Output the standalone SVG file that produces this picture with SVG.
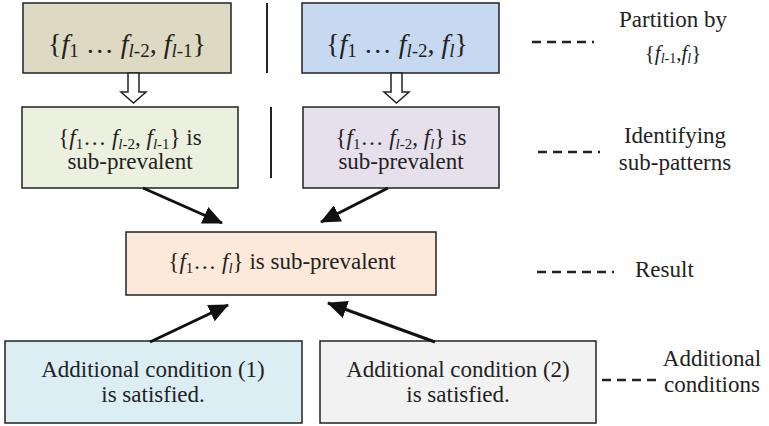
<svg xmlns="http://www.w3.org/2000/svg" width="769" height="426" viewBox="0 0 769 426">
<style>
.i{font-style:italic}
.s{font-size:15px}
.b{font-size:19px}
.box{stroke:#222;stroke-width:1.5}
.sep{stroke:#222;stroke-width:2}
.dash{stroke:#222;stroke-width:2.5;stroke-dasharray:9,6}
.arr{stroke:#111;stroke-width:3;fill:none}
.hollow{fill:#fff;stroke:#222;stroke-width:1.5}
</style>
<defs>
<marker id="ah" viewBox="0 0 20 18" refX="19" refY="9" markerWidth="20" markerHeight="18" markerUnits="userSpaceOnUse" orient="auto">
<path d="M0,0 L20,9 L0,18 Z" fill="#111"/>
</marker>
</defs>
<rect width="769" height="426" fill="#fff"/>
<g id="n1">
<rect class="box" x="23" y="3" width="208" height="70" fill="#ddd9c3"/>
<text font-family="Liberation Serif" fill="#222" x="127" y="53" text-anchor="middle" font-size="28">{<tspan class="i">f</tspan><tspan class="b" dy="4">1</tspan><tspan dy="-4"> … </tspan><tspan class="i">f</tspan><tspan class="b" dy="4"><tspan class="i">l</tspan>-2</tspan><tspan dy="-4">, </tspan><tspan class="i">f</tspan><tspan class="b" dy="4"><tspan class="i">l</tspan>-1</tspan><tspan dy="-4">}</tspan></text>
</g>

<g id="n2">
<rect class="box" x="302" y="3" width="197" height="70" fill="#c6d9f1"/>
<text font-family="Liberation Serif" fill="#222" x="397" y="53" text-anchor="middle" font-size="28">{<tspan class="i">f</tspan><tspan class="b" dy="4">1</tspan><tspan dy="-4"> … </tspan><tspan class="i">f</tspan><tspan class="b" dy="4"><tspan class="i">l</tspan>-2</tspan><tspan dy="-4">, </tspan><tspan class="i">f</tspan><tspan class="b i" dy="4">l</tspan><tspan dy="-4">}</tspan></text>
</g>

<g id="n3">
<rect class="box" x="22" y="107" width="216" height="81" fill="#ebf1de"/>
<text font-family="Liberation Serif" fill="#222" font-size="23" x="130" y="145" text-anchor="middle">{<tspan class="i">f</tspan><tspan class="s" dy="4">1</tspan><tspan dy="-4">… </tspan><tspan class="i">f</tspan><tspan class="s" dy="4"><tspan class="i">l</tspan>-2</tspan><tspan dy="-4">, </tspan><tspan class="i">f</tspan><tspan class="s" dy="4"><tspan class="i">l</tspan>-1</tspan><tspan dy="-4">} is</tspan></text>
<text font-family="Liberation Serif" fill="#222" font-size="23" x="130" y="169" text-anchor="middle">sub-prevalent</text>
</g>

<g id="n4">
<rect class="box" x="303" y="107" width="196" height="81" fill="#e5e0ec"/>
<text font-family="Liberation Serif" fill="#222" font-size="23" x="401" y="145" text-anchor="middle">{<tspan class="i">f</tspan><tspan class="s" dy="4">1</tspan><tspan dy="-4">… </tspan><tspan class="i">f</tspan><tspan class="s" dy="4"><tspan class="i">l</tspan>-2</tspan><tspan dy="-4">, </tspan><tspan class="i">f</tspan><tspan class="s i" dy="4">l</tspan><tspan dy="-4">} is</tspan></text>
<text font-family="Liberation Serif" fill="#222" font-size="23" x="401" y="169" text-anchor="middle">sub-prevalent</text>
</g>

<g id="n5">
<rect class="box" x="126" y="232" width="310" height="63" fill="#fde9d9"/>
<text font-family="Liberation Serif" fill="#222" font-size="23" x="282" y="269" text-anchor="middle">{<tspan class="i">f</tspan><tspan class="s" dy="4">1</tspan><tspan dy="-4">… </tspan><tspan class="i">f</tspan><tspan class="s i" dy="4">l</tspan><tspan dy="-4">} is sub-prevalent</tspan></text>
</g>

<g id="n6">
<rect class="box" x="5" y="341" width="297" height="82" fill="#dbeef4"/>
<text font-family="Liberation Serif" fill="#222" font-size="23" x="153" y="377" text-anchor="middle">Additional condition (1)</text>
<text font-family="Liberation Serif" fill="#222" font-size="23" x="153" y="402" text-anchor="middle">is satisfied.</text>
</g>

<g id="n7">
<rect class="box" x="320" y="341" width="276" height="82" fill="#f2f2f2"/>
<text font-family="Liberation Serif" fill="#222" font-size="23" x="458" y="377" text-anchor="middle">Additional condition (2)</text>
<text font-family="Liberation Serif" fill="#222" font-size="23" x="458" y="402" text-anchor="middle">is satisfied.</text>
</g>

<g id="legend">
<line class="dash" x1="532" y1="42" x2="594" y2="42"/>
<text font-family="Liberation Serif" fill="#222" font-size="23" x="673" y="27" text-anchor="middle">Partition by</text>
<text font-family="Liberation Serif" fill="#222" x="673" y="60" text-anchor="middle" font-size="21">{<tspan class="i">f</tspan><tspan font-size="14" dy="3"><tspan class="i">l</tspan>-1</tspan><tspan dy="-3">,</tspan><tspan class="i">f</tspan><tspan class="i" font-size="14" dy="3">l</tspan><tspan dy="-3">}</tspan></text>
<line class="dash" x1="538" y1="152" x2="600" y2="152"/>
<text font-family="Liberation Serif" fill="#222" font-size="23" x="675" y="143" text-anchor="middle">Identifying</text>
<text font-family="Liberation Serif" fill="#222" font-size="23" x="675" y="170" text-anchor="middle">sub-patterns</text>
<line class="dash" x1="537" y1="272" x2="614" y2="272"/>
<text font-family="Liberation Serif" fill="#222" font-size="23" x="635" y="277">Result</text>
<line class="dash" x1="602" y1="380" x2="657" y2="380"/>
<text font-family="Liberation Serif" fill="#222" font-size="23" x="712" y="366" text-anchor="middle">Additional</text>
<text font-family="Liberation Serif" fill="#222" font-size="23" x="712" y="392" text-anchor="middle">conditions</text>
</g>
<g id="connectors">
<line class="sep" x1="267" y1="3" x2="267" y2="73"/>
<line class="sep" x1="271" y1="107" x2="271" y2="178"/>
<path class="hollow" d="M128,73 L139,73 L139,92 L146,92 L133.5,103 L121,92 L128,92 Z"/>
<path class="hollow" d="M391,73 L402,73 L402,92 L409,92 L396.5,103 L384,92 L391,92 Z"/>
<line class="arr" x1="143" y1="188" x2="222" y2="223" marker-end="url(#ah)"/>
<line class="arr" x1="388" y1="188" x2="321" y2="222" marker-end="url(#ah)"/>
<line class="arr" x1="150" y1="342" x2="228" y2="305" marker-end="url(#ah)"/>
<line class="arr" x1="435" y1="342" x2="328" y2="303" marker-end="url(#ah)"/>
</g>
</svg>
